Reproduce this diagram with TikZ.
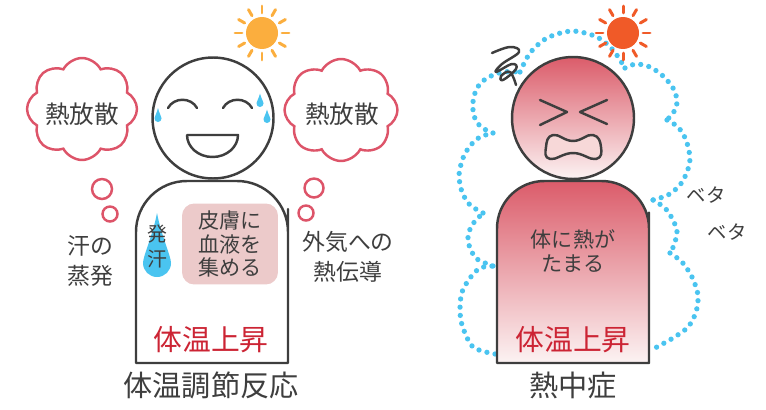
\documentclass[tikz,border=0pt]{standalone}
\usepackage{fontspec}
\setmainfont{Noto Sans CJK JP}
\usepackage{tikz}
\usetikzlibrary{shapes}
\usetikzlibrary{positioning}
\definecolor{ink}{RGB}{62,62,62}
\definecolor{cloudred}{RGB}{221,84,105}
\definecolor{hotred}{RGB}{204,36,52}
\definecolor{skyblue}{RGB}{74,196,240}
\definecolor{sunyellow}{RGB}{251,174,62}
\definecolor{sunred}{RGB}{240,90,40}
\definecolor{skinpink}{RGB}{236,202,202}
\definecolor{feverred}{RGB}{219,92,106}
\definecolor{feverpale}{RGB}{252,243,243}
\definecolor{mouthpink}{RGB}{247,216,216}
\tikzset{
    face/.style = {circle, draw=ink, line width=1.4pt, minimum size=2.42cm, inner sep=0pt},
    stroke/.style = {draw=ink, line width=1.4pt, line cap=round, line join=round},
    puff/.style = {cloud, cloud puffs=8, cloud puff arc=125, cloud ignores aspect, draw=cloudred, line width=1.4pt, inner sep=0pt, minimum width=2.2cm, minimum height=2.04cm},
    bubble/.style = {circle, draw=cloudred, line width=1.4pt, inner sep=0pt},
    note/.style = {align=center, text=ink, font=\fontsize{13}{17}\selectfont},
    big/.style = {text=ink, font=\fontsize{14}{16}\selectfont},
    small/.style = {align=center, text=ink, font=\fontsize{12}{13.4}\selectfont},
    hot/.style = {text=hotred, font=\fontsize{16.4}{18}\selectfont},
    title/.style = {text=ink, font=\fontsize{16.6}{18}\selectfont},
    sun/.style = {circle, inner sep=0pt, minimum size=0.64cm},
    ray/.style = {line width=1.7pt, line cap=round},
    dotline/.style = {draw=skyblue, line width=3pt, line cap=round, dash pattern=on 0pt off 4.7pt},
}
% rays round a sun node
\newcommand{\Rays}[2]{\foreach \a in {0,30,...,330} \draw[ray,#2] ([shift={(\a:20)}]#1.center) -- ([shift={(\a:27)}]#1.center);}
% sweat drop: x, y of the round part, radius, tip height
\newcommand{\Drop}[4]{\fill[skyblue] (#1,#2-#4) .. controls (#1+0.3*#3,#2-0.55*#4) and (#1+#3,#2-0.5*#3) .. (#1+#3,#2) arc[start angle=0,end angle=180,radius=#3] .. controls (#1-#3,#2-0.5*#3) and (#1-0.3*#3,#2-0.55*#4) .. cycle;}

\begin{document}
\begin{tikzpicture}[x=0.02cm, y=-0.02cm]
\useasboundingbox (0,0) rectangle (766,409);
%
% left: body cooling itself
\node[puff] (cloudL) at (82,109) {};
\node[big] (heatL) at (82,114) {熱放散};
\node[bubble, minimum size=0.4cm] (b1) at (102,189) {};
\node[bubble, minimum size=0.3cm] (b2) at (110,214) {};
\node[puff, minimum width=2.26cm] (cloudR) at (341,110) {};
\node[big] (heatR) at (342,114) {熱放散};
\node[bubble, minimum size=0.38cm] (b3) at (314,188) {};
\node[bubble, minimum size=0.3cm] (b4) at (306,213) {};
\node[note] (evap) at (90,261) {汗の\\蒸発};
\node[note] (cond) at (348,257) {外気への\\熱伝導};
%
\draw[stroke, fill=white] (136,363) -- (136,260) [rounded corners=29pt] -- (136,181) -- (288,181) -- (288,260) [sharp corners] -- (288,363) -- cycle;
\node[face, fill=white] (headL) at (213,118) {};
\draw[stroke] (168,108) .. controls (174,97) and (191,97) .. (197,108);
\draw[stroke] (223,108) .. controls (229,97) and (246,97) .. (252,108);
\draw[stroke] (187,135) -- (238,135) arc[start angle=0, end angle=180, x radius=25.5, y radius=22] -- cycle;
\Drop{158}{118.5}{3.5}{10.5}
\Drop{260}{103.5}{3.5}{10}
\Drop{267}{119.5}{3.5}{10}
\node[sun, fill=sunyellow] (sunL) at (262,33) {};
\Rays{sunL}{sunyellow}
%
\node[fill=skinpink, rounded corners=7pt, minimum width=1.92cm, minimum height=1.62cm, small] (skin) at (230,244) {皮膚に\\血液を\\集める};
\Drop{157}{263}{14}{50}
\node[align=center, text=ink, font=\fontsize{11.3}{14.2}\selectfont] (sweat) at (157,246) {発\\汗};
\node[hot] (riseL) at (211,340) {体温上昇};
\node[title] (titleL) at (211,385) {体温調節反応};
%
% right: heat stays inside
\draw[dotline] plot[smooth] coordinates {(495,354) (473,347) (462,325) (460,308) (462,292) (470,278) (480,268) (493,266)};
\draw[dotline] plot[smooth] coordinates {(493,266) (477,259) (470,248) (468,237) (472,225) (483,213)};
\draw[dotline] plot[smooth] coordinates {(483,213) (470,205) (462,192) (459,175) (463,158) (470,146) (480,137) (493,133)};
\draw[dotline] plot[smooth] coordinates {(493,133) (481,127) (474,116) (473,102) (477,88) (487,78) (503,72) (520,72)};
\draw[dotline] plot[smooth] coordinates {(520,72) (530,53) (547,38) (572,31) (597,37) (613,50) (625,68)};
\draw[dotline] plot[smooth] coordinates {(625,68) (636,64) (650,67) (663,76) (673,88) (677,100) (675,110) (667,120)};
\draw[dotline] plot[smooth] coordinates {(667,120) (678,127) (686,140) (690,158) (687,172) (680,185) (668,195) (653,200)};
\draw[dotline] plot[smooth] coordinates {(653,200) (665,208) (673,220) (677,232) (674,245) (670,253)};
\draw[dotline] plot[smooth] coordinates {(670,253) (682,262) (692,277) (698,295) (696,312) (688,327) (673,338) (655,348)};
%
\draw[stroke, top color=feverred, bottom color=feverpale] (497,363) -- (497,260) [rounded corners=27pt] -- (497,181) -- (649,181) -- (649,260) [sharp corners] -- (649,363) -- cycle;
\node[face, top color=feverred, bottom color=feverpale, minimum size=2.44cm] (headR) at (573,118) {};
\draw[stroke] (540,100) -- (567,112) -- (540,125);
\draw[stroke] (607,100) -- (580,112) -- (607,124);
\draw[stroke, fill=mouthpink] plot[smooth cycle, tension=0.8] coordinates {(553,135) (573,141) (593,135) (601,147) (596,159) (573,153) (550,159) (546,147)};
\draw[stroke] plot[smooth, tension=0.7] coordinates {(492,53) (510,47) (519,52) (502,64) (496,72) (512,64) (516,69) (503,80) (501,76) (510,72) (516,85)};
\node[sun, fill=sunred] (sunR) at (623,33) {};
\Rays{sunR}{sunred}
%
\node[small] (trap) at (573,251) {体に熱が\\たまる};
\node[hot] (riseR) at (573,340) {体温上昇};
\node[title] (titleR) at (573,385) {熱中症};
\node[align=center, text=ink, font=\fontsize{11}{13}\selectfont] (sticky1) at (706,195) {ベタ};
\node[align=center, text=ink, font=\fontsize{11}{13}\selectfont] (sticky2) at (727,232) {ベタ};
\end{tikzpicture}
\end{document}
